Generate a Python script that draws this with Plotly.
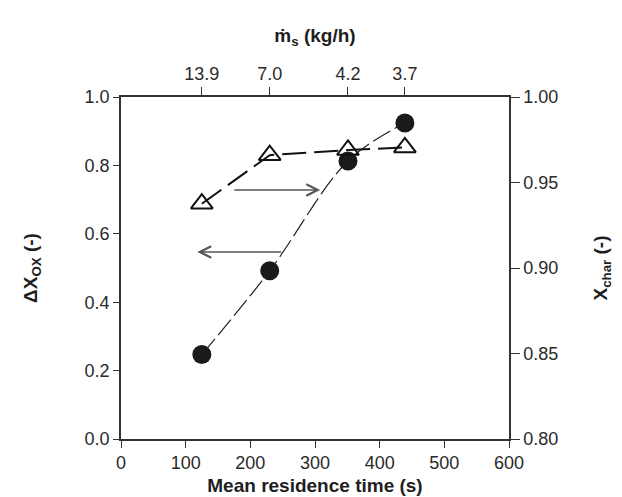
import plotly.graph_objects as go

# Data
residence_time = [125, 230, 351, 439]           # s
delta_x_ox = [0.247, 0.492, 0.813, 0.924]       # left axis
x_char = [0.9376, 0.966, 0.969, 0.9705]         # right axis
mass_flow_labels = ["13.9", "7.0", "4.2", "3.7"]  # top axis (kg/h)

# arrows (data coords): (tail_x, head_x, y on left axis)
arrow_right = (173, 308, 0.728)
arrow_left = (250, 118, 0.547)

FONT = "Liberation Sans, Arial, sans-serif"
TICKC = "#2a2a2a"
TITLEC = "#1e1e1e"

fig = go.Figure()

fig.add_trace(go.Scatter(
    x=residence_time, y=delta_x_ox, mode="lines+markers",
    line=dict(color="#222", width=1.2, dash="20px,5px", shape="spline", smoothing=1),
    marker=dict(symbol="circle", size=19, color="#1a1a1a", line=dict(width=0)),
    xaxis="x", yaxis="y", showlegend=False, cliponaxis=False))

fig.add_trace(go.Scatter(
    x=residence_time, y=x_char, mode="lines+markers",
    line=dict(color="#111", width=2, dash="24px,8px"),
    marker=dict(symbol="triangle-up-open", size=19, color="#111", line=dict(width=2)),
    xaxis="x", yaxis="y2", showlegend=False, cliponaxis=False))

# invisible trace so the top axis is drawn
fig.add_trace(go.Scatter(x=[0, 600], y=[0, 0], mode="markers", marker=dict(opacity=0),
                         xaxis="x2", yaxis="y", showlegend=False, hoverinfo="skip"))

for tail_x, head_x, yv in [arrow_right, arrow_left]:
    fig.add_annotation(x=head_x, y=yv, ax=tail_x, ay=yv, xref="x", yref="y",
                       axref="x", ayref="y", text="", showarrow=True,
                       arrowhead=5, arrowsize=1.6, arrowwidth=1.4, arrowcolor="#555",
                       standoff=0, startstandoff=0)

axis_common = dict(showline=True, linecolor="#333", linewidth=1.5, ticks="outside",
                   tickcolor="#333", tickwidth=1.3, showgrid=False, zeroline=False,
                   tickfont=dict(family=FONT, size=18, color=TICKC))
title_font = dict(family=FONT, size=19, color=TITLEC)

fig.update_layout(
    width=622, height=497,
    paper_bgcolor="white", plot_bgcolor="white",
    margin=dict(l=113, r=121, t=89, b=66),
    font=dict(family=FONT, color="#222"),
    xaxis=dict(range=[0, 600], dtick=100, tick0=0, ticklen=7,
               title=dict(text="<b>Mean residence time (s)</b>", font=title_font, standoff=6),
               **axis_common),
    xaxis2=dict(range=[0, 600], overlaying="x", side="top", tickmode="array",
                tickvals=residence_time, ticktext=mass_flow_labels, ticklen=8,
                title=dict(text="<b>ṁ<sub>s</sub> (kg/h)</b>", font=title_font, standoff=16),
                **axis_common),
    yaxis=dict(range=[0, 1], dtick=0.2, tick0=0, tickformat=".1f", ticklen=6,
               title=dict(text="<b>ΔX<sub>OX</sub> (-)</b>", font=title_font, standoff=42),
               **axis_common),
    yaxis2=dict(range=[0.8, 1.0], dtick=0.05, tick0=0.8, tickformat=".2f", ticklen=9,
                overlaying="y", side="right",
                title=dict(text="<b>X<sub>char</sub> (-)</b>", font=title_font, standoff=36),
                **axis_common),
)

fig.write_html("out.html")
